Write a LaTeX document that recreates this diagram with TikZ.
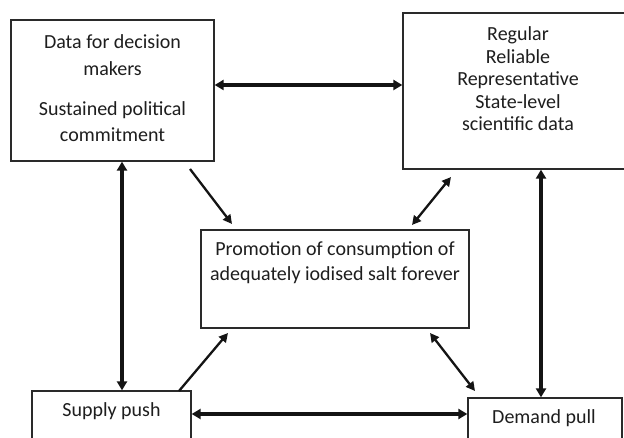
\documentclass[tikz,border=0pt]{standalone}
\usepackage{fontspec}
\setmainfont{Carlito}
\usetikzlibrary{arrows.meta,calc}
\definecolor{boxline}{HTML}{2A2A2A}
\definecolor{txt}{HTML}{1E1E1E}
\tikzset{
  box/.style={draw=boxline, line width=1.3pt, inner sep=0pt, minimum width=#1},
  lbl/.style={text=txt, align=center, inner sep=0pt, font=\fontsize{20}{24}\selectfont},
  thickarr/.style={line width=3.3pt, draw=black!92, {Triangle[length=9pt,width=10pt]}-{Triangle[length=9pt,width=10pt]}},
  thinarr/.style={line width=2.3pt, draw=black!92, -{Triangle[length=9pt,width=9pt]}},
  thindbl/.style={line width=2.3pt, draw=black!92, {Triangle[length=9pt,width=9pt]}-{Triangle[length=9pt,width=9pt]}},
}
\begin{document}
\begin{tikzpicture}[x=1pt,y=-1pt]
\clip (0,0) rectangle (624,438);
\fill[white] (0,0) rectangle (624,438);
% boxes
\node[box=203pt, minimum height=141pt] (A) at (112.5,90.5) {};
\node[box=237pt, minimum height=156pt] (B) at (521.5,91) {};
\node[box=268pt, minimum height=98pt] (C) at (335,279) {};
\node[box=159pt, minimum height=70pt] (S) at (111.5,426) {};
\node[box=154pt, minimum height=64pt] (D) at (545,430) {};
% texts
\node[lbl, font=\fontsize{20}{26.5}\selectfont] (At1) at (112.5,55) {Data for decision\\makers};
\node[lbl, font=\fontsize{20}{26.5}\selectfont] (At2) at (112.5,121.5) {Sustained political\\commitment};
\node[lbl, font=\fontsize{20}{22.5}\selectfont] (Bt) at (518,79) {Regular\\Reliable\\Representative\\State-level\\scientific data};
\node[lbl, font=\fontsize{20}{25}\selectfont] (Ct) at (335,263) {Promotion of consumption of\\adequately iodised salt forever};
\node[lbl] (St) at (111.5,411) {Supply push};
\node[lbl] (Dt) at (544,418) {Demand pull};
% free-end coordinates of diagonal connectors
\coordinate (ac1) at (190,169);
\coordinate (ac2) at (232,224);
\coordinate (bc1) at (451,177);
\coordinate (bc2) at (412,225);
\coordinate (sc1) at (179,391);
\coordinate (sc2) at (228,333);
\coordinate (cd1) at (430,333);
\coordinate (cd2) at (475,391);
% connectors
\draw[thickarr] (A.east |- 0,85) -- (B.west |- 0,85);
\draw[thickarr] (A.south -| 122,0) -- (S.north -| 122,0);
\draw[thickarr] (B.south -| 541,0) -- (D.north -| 541,0);
\draw[thickarr] (S.east |- 0,414) -- (D.west |- 0,414);
\draw[thinarr] (ac1) -- (ac2);
\draw[thindbl] (bc1) -- (bc2);
\draw[thinarr] (sc1) -- (sc2);
\draw[thindbl] (cd1) -- (cd2);
\end{tikzpicture}
\end{document}
